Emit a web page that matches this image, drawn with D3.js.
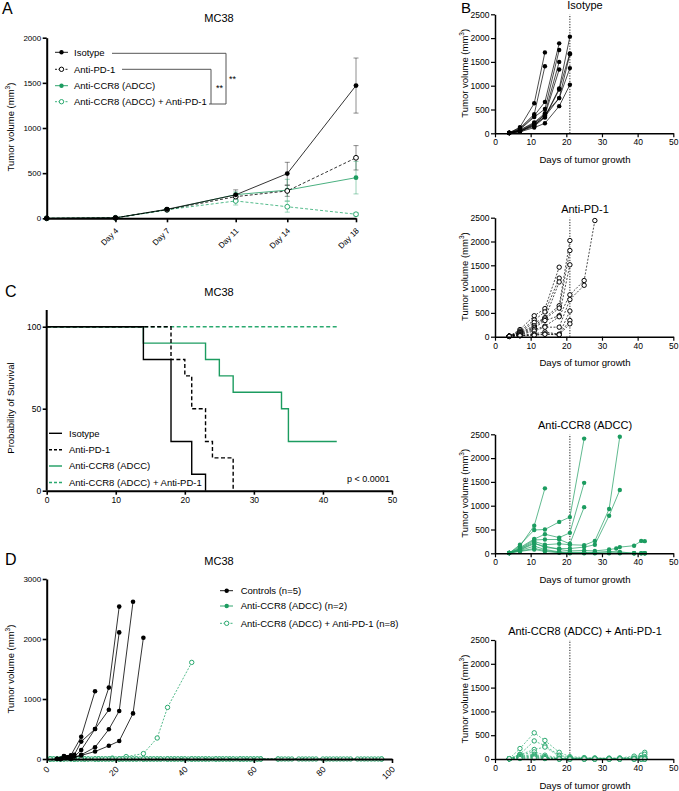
<!DOCTYPE html>
<html><head><meta charset="utf-8">
<script src="https://cdn.jsdelivr.net/npm/d3@7"></script>
<style>
body{margin:0;background:#fff;}
svg{display:block;}
</style></head><body>
<svg id="c" width="679" height="791"></svg>
<script>
// ---------------- DATA ----------------
// Panel A: mean tumour volume (mm3) +/- SEM
const aDays = [0, 4, 7, 11, 14, 18];
const aTickDays = [4, 7, 11, 14, 18];
const aIsoMean = [0, 5, 100, 260, 495, 1470];
const aIsoSem = [0, 4, 10, 55, 125, 305];
const aPd1Mean = [0, 5, 95, 240, 303, 670];
const aPd1Sem = [0, 3, 8, 30, 60, 135];
const aCcr8Mean = [0, 5, 95, 262, 312, 450];
const aCcr8Sem = [0, 3, 8, 30, 120, 180];
const aComboMean = [0, 5, 95, 192, 128, 45];
const aComboSem = [0, 3, 8, 45, 60, 20];
const aLegend = ["Isotype", "Anti-PD-1", "Anti-CCR8 (ADCC)", "Anti-CCR8 (ADCC) + Anti-PD-1"];
const aYTicks = [0, 500, 1000, 1500, 2000];

// Panel B: individual mice, [day, volume]
const bIsotype = [
  [[4,10],[7,130],[11,630],[14,1700]],
  [[4,10],[7,110],[11,400],[14,1410]],
  [[4,5],[7,90],[11,370],[14,660],[18,1890]],
  [[4,5],[7,80],[11,340],[14,510],[18,1750]],
  [[4,5],[7,70],[11,230],[14,420],[18,1500]],
  [[4,5],[7,60],[11,210],[14,380],[18,1340]],
  [[4,5],[7,50],[11,180],[14,350],[18,940],[21,2030]],
  [[4,5],[7,40],[11,150],[14,330],[18,920],[21,1680]],
  [[4,5],[7,40],[11,200],[14,400],[18,740],[21,1660]],
  [[4,5],[7,40],[11,170],[14,350],[18,740],[21,1370]],
  [[4,5],[7,30],[11,120],[14,210],[18,570],[21,1020]]
];
const bPd1 = [
  [[4,10],[7,150],[11,440],[14,590],[18,1460]],
  [[4,10],[7,120],[11,350],[14,520],[18,1230]],
  [[4,10],[7,100],[11,300],[14,380],[18,1150]],
  [[4,10],[7,90],[11,230],[14,400],[18,650],[21,2020]],
  [[4,10],[7,80],[11,200],[14,370],[18,600],[21,1810]],
  [[4,10],[7,60],[11,180],[14,340],[18,440],[21,1510]],
  [[4,10],[7,50],[11,150],[14,220],[18,420],[21,880],[25,1180],[28,2440]],
  [[4,10],[7,40],[11,120],[14,200],[18,200],[21,780],[25,1080]],
  [[4,5],[7,30],[11,60],[14,100],[18,50],[21,540]],
  [[4,5],[7,20],[11,40],[14,60],[18,50],[21,340]],
  [[4,5],[7,20],[11,30],[14,50],[18,40],[21,270]]
];
const bCcr8 = [
  [[4,5],[7,150],[11,580],[14,1365]],
  [[4,5],[7,180],[11,490],[14,500],[18,660],[21,760],[25,2410]],
  [[4,5],[7,120],[11,300],[14,400],[18,330],[21,430],[25,1480]],
  [[4,5],[7,100],[11,280],[14,290],[18,290],[21,200],[25,970]],
  [[4,5],[7,90],[11,250],[14,180],[18,200],[21,180],[25,170],[28,260],[32,930],[35,2450]],
  [[4,5],[7,80],[11,220],[14,120],[18,100],[21,100],[25,130],[28,180],[32,790],[35,1330]],
  [[4,5],[7,70],[11,200],[14,150],[18,80],[21,50],[25,60],[28,50],[32,80],[34,100],[35,130],[39,160],[41,260],[42,255]],
  [[4,5],[7,60],[11,150],[14,80],[18,30],[21,20],[25,20],[28,20],[32,40],[35,30],[39,0],[41,0],[42,0]],
  [[4,5],[7,50],[11,100],[14,60],[18,20],[21,10],[25,10],[28,10],[32,10],[35,10],[39,0],[41,0],[42,0]],
  [[4,5],[7,40],[11,80],[14,40],[18,10],[21,0],[25,0],[28,0],[32,0],[35,0],[39,0],[42,0]]
];
const bCombo = [
  [[4,5],[7,220],[11,550],[14,390],[18,140],[21,50],[25,30],[28,20],[32,20],[35,20],[39,40],[41,60],[42,140]],
  [[4,5],[7,100],[11,380],[14,280],[18,80],[21,30],[25,20],[28,20],[32,10],[35,20],[39,60],[41,80],[42,100]],
  [[4,5],[7,90],[11,200],[14,250],[18,60],[21,20],[25,10],[28,10],[32,10],[35,10],[39,20],[41,30],[42,50]],
  [[4,5],[7,80],[11,150],[14,80],[18,20],[21,10],[25,10],[28,0],[32,0],[35,0],[39,10],[41,20],[42,30]],
  [[4,5],[7,60],[11,100],[14,50],[18,10],[21,0],[25,0],[28,0],[32,0],[35,0],[39,0],[41,0],[42,0]],
  [[4,5],[7,50],[11,80],[14,40],[18,0],[21,0],[25,0],[28,0],[32,0],[35,0],[39,0],[41,0],[42,0]],
  [[4,5],[7,40],[11,60],[14,30],[18,0],[21,0],[25,0],[28,0],[32,0],[35,0],[39,0],[41,0],[42,0]],
  [[4,5],[7,30],[11,50],[14,20],[18,0],[21,0],[25,0],[28,0],[32,0],[35,0],[39,0],[41,0],[42,0]],
  [[4,5],[7,20],[11,30],[14,10],[18,0],[21,0],[25,0],[28,0],[32,0],[35,0],[39,0],[41,0],[42,0]],
  [[4,5],[7,10],[11,20],[14,10],[18,0],[21,0],[25,0],[28,0],[32,0],[35,0],[39,0],[41,0],[42,0]]
];
const bTitles = ["Isotype", "Anti-PD-1", "Anti-CCR8 (ADCC)", "Anti-CCR8 (ADCC) + Anti-PD-1"];
const bYTicks = [0, 500, 1000, 1500, 2000, 2500];
const bXTicks = [0, 10, 20, 30, 40, 50];

// Panel C: Kaplan-Meier steps [day, % survival]
const cIsotype = [[0,100],[14,80],[18,30],[21,10],[23,0]];
const cPd1 = [[0,100],[18,80],[20,70],[21,50],[23,30],[24,20],[27,0]];
const cCcr8 = [[0,100],[14,90],[23,80],[25,70],[27,60],[34,50],[35,30],[42,30]];
const cCombo = [[0,100],[42,100]];
const cLegend = ["Isotype", "Anti-PD-1", "Anti-CCR8 (ADCC)", "Anti-CCR8 (ADCC) + Anti-PD-1"];
const cYTicks = [0, 50, 100];
const cXTicks = [0, 10, 20, 30, 40, 50];

// Panel D: long-term follow-up [day, volume]
const dControls = [
  [[3,5],[5,50],[7,60],[10,370],[14,1130]],
  [[3,5],[5,45],[8,70],[10,290],[14,500],[18,1190],[21,2540]],
  [[4,0],[6,30],[8,40],[10,150],[14,500],[18,820],[21,2110]],
  [[4,0],[6,20],[7,10],[10,70],[14,195],[18,495],[21,800],[25,2620]],
  [[4,0],[7,5],[10,60],[14,125],[18,220],[21,300],[25,760],[28,2020]]
];
const dCcr8 = [
  [[1,0],[4,0],[8,0],[11,0],[15,0],[18,0],[22,0],[25,0],[29,0],[32,0],[36,0],[39,0],[43,0],[46,0],[50,0],[53,0],[57,0],[60,0]],
  [[2,0],[5,0],[9,0],[12,0],[16,0],[19,0],[23,0],[26,0],[30,0],[33,0],[37,0],[40,0],[44,0],[47,0],[51,0],[54,0],[58,0],[61,0]]
];
const dCombo = [
  [[1,0],[4,0],[8,0],[11,0],[15,0],[19,15],[23,40],[28,90],[32,350],[35,860],[42,1610]],
  [[1,0],[4,0],[8,0],[11,0],[14,0],[18,0],[21,0],[25,0],[28,0],[32,0],[35,0],[39,0],[42,0],[46,0],[49,0],[53,0],[56,0],[60,0],[62,0]],
  [[2,0],[5,0],[9,0],[12,0],[16,0],[19,0],[23,0],[26,0],[30,0],[33,0],[37,0],[40,0],[44,0],[47,0],[51,0],[54,0],[58,0],[61,0]],
  [[1,0],[4,0],[8,0],[11,0],[15,0],[18,0],[22,0],[25,0],[29,0],[32,0],[36,0],[39,0],[43,0],[46,0],[50,0],[53,0],[57,0],[60,0],[67,0],[70,0],[74,0],[77,0],[81,0],[84,0],[88,0],[91,0],[95,0],[97,0]],
  [[3,0],[6,0],[10,0],[13,0],[17,0],[20,0],[24,0],[27,0],[31,0],[34,0],[38,0],[41,0],[45,0],[48,0],[52,0],[55,0],[59,0],[62,0],[68,0],[71,0],[75,0],[78,0],[82,0],[85,0],[87,0],[92,0],[94,0],[96,0]],
  [[2,0],[7,0],[9,0],[14,0],[16,0],[21,0],[23,0],[28,0],[30,0],[35,0],[37,0],[42,0],[44,0],[49,0],[51,0],[56,0],[58,0],[62,0]],
  [[1,0],[5,0],[8,0],[12,0],[15,0],[19,0],[22,0],[26,0],[29,0],[33,0],[36,0],[40,0],[43,0],[47,0],[50,0],[54,0],[57,0],[61,0],[67,0],[69,0],[73,0],[76,0],[80,0],[83,0],[86,0],[90,0],[93,0],[97,0]],
  [[1,0],[3,0],[7,0],[10,0],[14,0],[17,0],[21,0],[24,0],[28,0],[31,0],[35,0],[38,0],[42,0],[45,0],[49,0],[52,0],[56,0],[59,0]]
];
const dLegend = ["Controls (n=5)", "Anti-CCR8 (ADCC) (n=2)", "Anti-CCR8 (ADCC) + Anti-PD-1 (n=8)"];
const dYTicks = [0, 1000, 2000, 3000];
const dXTicks = [0, 20, 40, 60, 80, 100];

// ---------------- STYLE ----------------
const FONT = '"Liberation Sans", Arial, Helvetica, sans-serif';
const BLACK = "#000";
const GREEN = "#1c9c60";
const GREEN_D = "#2aa96f";
const plain = d3.format("d");

const svg = d3.select("#c");

function txt(g, x, y, s, size, anchor) {
  return g.append("text").attr("x", x).attr("y", y).text(s)
    .attr("font-family", FONT).attr("font-size", size).attr("fill", "#000")
    .attr("text-anchor", anchor || "start");
}
function yLabel(g, x, y, size) {
  const t = g.append("text").attr("transform", `translate(${x},${y}) rotate(-90)`)
    .attr("font-family", FONT).attr("font-size", size).attr("text-anchor", "middle").attr("fill", "#000");
  t.append("tspan").text("Tumor volume (mm");
  t.append("tspan").text("3").attr("font-size", size * 0.68).attr("dy", -size * 0.4);
  t.append("tspan").text(")").attr("dy", size * 0.4);
}
function styleAxis(a, lw, fs) {
  a.attr("font-family", FONT).attr("font-size", fs);
  a.select(".domain").attr("stroke-width", lw).attr("stroke", "#000");
  a.selectAll(".tick line").attr("stroke-width", lw * 0.8).attr("stroke", "#000");
  a.selectAll(".tick text").attr("fill", "#000");
}
function series(g, x, y, pts, o) {
  g.append("path").datum(pts)
    .attr("d", d3.line().x(d => x(d[0])).y(d => y(d[1])))
    .attr("fill", "none").attr("stroke", o.color).attr("stroke-width", o.lw || 0.8)
    .attr("stroke-dasharray", o.dash || null);
  g.selectAll(null).data(pts).enter().append("circle")
    .attr("cx", d => x(d[0])).attr("cy", d => y(d[1])).attr("r", o.r || 2.3)
    .attr("fill", o.open ? "#fff" : o.color)
    .attr("stroke", o.color).attr("stroke-width", o.open ? 1 : 0);
}

// ---------------- PANEL A ----------------
{
  const g = svg.append("g");
  const x = d3.scaleLinear().domain([0, 18]).range([46.7, 356]);
  const y = d3.scaleLinear().domain([0, 2000]).range([218.3, 37.7]);
  txt(g, 2, 14, "A", 16);
  txt(g, 219, 22, "MC38", 11, "middle");
  yLabel(g, 14, 127, 9.5);

  const groups = [
    {m: aIsoMean, s: aIsoSem, color: BLACK, open: false, dash: null},
    {m: aPd1Mean, s: aPd1Sem, color: BLACK, open: true, dash: "3,2"},
    {m: aCcr8Mean, s: aCcr8Sem, color: GREEN, open: false, dash: null},
    {m: aComboMean, s: aComboSem, color: GREEN_D, open: true, dash: "3,2"}
  ];
  groups.forEach(gr => {
    aDays.forEach((d, i) => {
      if (gr.s[i] <= 0) return;
      const cx = x(d), y1 = y(gr.m[i] + gr.s[i]), y2 = y(Math.max(0, gr.m[i] - gr.s[i]));
      g.append("line").attr("x1", cx).attr("x2", cx).attr("y1", y1).attr("y2", y2)
        .attr("stroke", gr.color).attr("stroke-width", 0.8).attr("opacity", 0.55);
      [y1, y2].forEach(yy => g.append("line").attr("x1", cx - 2.5).attr("x2", cx + 2.5)
        .attr("y1", yy).attr("y2", yy).attr("stroke", gr.color).attr("stroke-width", 0.8).attr("opacity", 0.55));
    });
  });
  groups.slice().reverse().forEach(gr => {
    series(g, x, y, aDays.map((d, i) => [d, gr.m[i]]), {color: gr.color, open: gr.open, dash: gr.dash, r: 2.4, lw: 0.8});
  });

  const ya = g.append("g").attr("transform", "translate(46.7,0)")
    .call(d3.axisLeft(y).tickValues(aYTicks).tickFormat(plain).tickSize(4).tickSizeOuter(0).tickPadding(1.5));
  styleAxis(ya, 2, 8);
  const xa = g.append("g").attr("transform", "translate(0,218.3)")
    .call(d3.axisBottom(x).tickValues(aTickDays).tickFormat(d => "Day " + d).tickSize(4).tickSizeOuter(0));
  styleAxis(xa, 2, 8);
  xa.selectAll(".tick text").attr("y", 0).attr("dy", 0).attr("text-anchor", "end")
    .attr("transform", "translate(3,13) rotate(-45)");

  const ly = [52.3, 69.3, 85.7, 101.7];
  groups.forEach((gr, i) => {
    g.append("line").attr("x1", 55).attr("x2", 68).attr("y1", ly[i]).attr("y2", ly[i])
      .attr("stroke", gr.color).attr("stroke-width", 0.9).attr("stroke-dasharray", gr.dash ? "2,1.5" : null);
    g.append("circle").attr("cx", 61.5).attr("cy", ly[i]).attr("r", 2.2)
      .attr("fill", gr.open ? "#fff" : gr.color).attr("stroke", gr.color).attr("stroke-width", gr.open ? 1 : 0);
    txt(g, 74, ly[i] + 3.4, aLegend[i], 9.5);
  });
  const bc = "#555";
  const br = (pts) => g.append("path").attr("d", d3.line()(pts)).attr("fill", "none").attr("stroke", bc).attr("stroke-width", 1);
  br([[112, 53.3], [226, 53.3], [226, 104], [209, 104]]);
  br([[122, 69.3], [211, 69.3], [211, 104]]);
  txt(g, 216, 91, "**", 9);
  txt(g, 229, 82, "**", 9);
}

// ---------------- PANEL B ----------------
{
  const g = svg.append("g");
  txt(g, 461, 13, "B", 15);
  const x = d3.scaleLinear().domain([0, 50]).range([495, 673.3]);
  const y0s = [133.3, 336.7, 553.3, 759];
  const sets = [
    {data: bIsotype, color: BLACK, open: false, dash: null},
    {data: bPd1, color: BLACK, open: true, dash: "2,1.5"},
    {data: bCcr8, color: GREEN, open: false, dash: null},
    {data: bCombo, color: GREEN_D, open: true, dash: "2,1.5"}
  ];
  sets.forEach((st, k) => {
    const y0 = y0s[k];
    const y = d3.scaleLinear().domain([0, 2500]).range([y0, y0 - 119]);
    txt(g, 585, y0 - 124, bTitles[k], 11, "middle");
    yLabel(g, 468, y0 - 60, 9.5);
    g.append("line").attr("x1", x(21)).attr("x2", x(21)).attr("y1", y(0)).attr("y2", y(2500))
      .attr("stroke", "#000").attr("stroke-width", 0.9).attr("stroke-dasharray", "1.2,1.5");
    st.data.forEach(m => series(g, x, y, m, {color: st.color, open: st.open, dash: st.dash, r: 2.2, lw: 0.7}));
    const ya = g.append("g").attr("transform", "translate(495,0)")
      .call(d3.axisLeft(y).tickValues(bYTicks).tickFormat(plain).tickSize(4).tickSizeOuter(0).tickPadding(1.5));
    styleAxis(ya, 1.5, 8.5);
    const xa = g.append("g").attr("transform", `translate(0,${y0})`)
      .call(d3.axisBottom(x).tickValues(bXTicks).tickFormat(plain).tickSize(4).tickSizeOuter(0).tickPadding(2));
    styleAxis(xa, 1.5, 8.5);
    txt(g, 585, y0 + 29.5, "Days of tumor growth", 9.6, "middle");
  });
}

// ---------------- PANEL C ----------------
{
  const g = svg.append("g");
  const x = d3.scaleLinear().domain([0, 50]).range([46.7, 392]);
  const y = d3.scaleLinear().domain([0, 100]).range([490.7, 326.7]);
  txt(g, 5, 297, "C", 16);
  txt(g, 219, 296, "MC38", 11, "middle");
  g.append("text").attr("transform", "translate(14,408) rotate(-90)").attr("text-anchor", "middle")
    .attr("font-family", FONT).attr("font-size", 9.5).text("Probability of Survival");
  const step = d3.line().x(d => x(d[0])).y(d => y(d[1])).curve(d3.curveStepAfter);
  const curves = [
    {d: cCombo, color: GREEN_D, dash: "4,2.5"},
    {d: cCcr8, color: GREEN, dash: null},
    {d: cPd1, color: BLACK, dash: "4,2.5"},
    {d: cIsotype, color: BLACK, dash: null}
  ];
  curves.forEach(c => g.append("path").attr("d", step(c.d)).attr("fill", "none")
    .attr("stroke", c.color).attr("stroke-width", 1.4).attr("stroke-dasharray", c.dash));
  const ya = g.append("g").attr("transform", "translate(46.7,0)")
    .call(d3.axisLeft(y).tickValues(cYTicks).tickFormat(plain).tickSize(4).tickSizeOuter(0).tickPadding(1.5));
  styleAxis(ya, 2, 8.5);
  ya.select(".domain").attr("d", `M0,${y(0)}V310`);
  const xa = g.append("g").attr("transform", "translate(0,490.7)")
    .call(d3.axisBottom(x).tickValues(cXTicks).tickFormat(plain).tickSize(4).tickSizeOuter(0).tickPadding(2));
  styleAxis(xa, 2, 8.5);
  const ly = [433.3, 449.7, 466, 482.5];
  const leg = [curves[3], curves[2], curves[1], curves[0]];
  leg.forEach((c, i) => {
    g.append("line").attr("x1", 49).attr("x2", 62).attr("y1", ly[i]).attr("y2", ly[i])
      .attr("stroke", c.color).attr("stroke-width", 1.4).attr("stroke-dasharray", c.dash ? "3,2" : null);
    txt(g, 69, ly[i] + 3.4, cLegend[i], 9.5);
  });
  txt(g, 347, 481.7, "p < 0.0001", 9);
}

// ---------------- PANEL D ----------------
{
  const g = svg.append("g");
  const x = d3.scaleLinear().domain([0, 100]).range([46.7, 392]);
  const y = d3.scaleLinear().domain([0, 3000]).range([759, 579]);
  txt(g, 5, 565, "D", 16);
  txt(g, 219, 565, "MC38", 11, "middle");
  yLabel(g, 14, 669, 9.5);
  dCcr8.forEach(m => series(g, x, y, m, {color: GREEN, open: false, r: 2.2, lw: 0.8}));
  dCombo.forEach(m => series(g, x, y, m, {color: GREEN_D, open: true, dash: "2,1.5", r: 2.2, lw: 0.8}));
  dControls.forEach(m => series(g, x, y, m, {color: BLACK, open: false, r: 2.3, lw: 0.8}));
  const ya = g.append("g").attr("transform", "translate(46.7,0)")
    .call(d3.axisLeft(y).tickValues(dYTicks).tickFormat(plain).tickSize(4).tickSizeOuter(0).tickPadding(1.5));
  styleAxis(ya, 2, 8);
  const xa = g.append("g").attr("transform", "translate(0,759)")
    .call(d3.axisBottom(x).tickValues(dXTicks).tickFormat(plain).tickSize(4).tickSizeOuter(0));
  styleAxis(xa, 2, 8.5);
  xa.selectAll(".tick text").attr("y", 0).attr("dy", 0).attr("text-anchor", "end")
    .attr("transform", "translate(3,11) rotate(-45)");
  const ly = [590.7, 606, 623.3];
  const st = [
    {color: BLACK, open: false, dash: null},
    {color: GREEN, open: false, dash: null},
    {color: GREEN_D, open: true, dash: "2,1.5"}
  ];
  st.forEach((s, i) => {
    g.append("line").attr("x1", 220).attr("x2", 233).attr("y1", ly[i]).attr("y2", ly[i])
      .attr("stroke", s.color).attr("stroke-width", 0.9).attr("stroke-dasharray", s.dash);
    g.append("circle").attr("cx", 226.7).attr("cy", ly[i]).attr("r", 2.2)
      .attr("fill", s.open ? "#fff" : s.color).attr("stroke", s.color).attr("stroke-width", s.open ? 1 : 0);
    txt(g, 240.7, ly[i] + 3.4, dLegend[i], 9.5);
  });
}
</script>
</body></html>
